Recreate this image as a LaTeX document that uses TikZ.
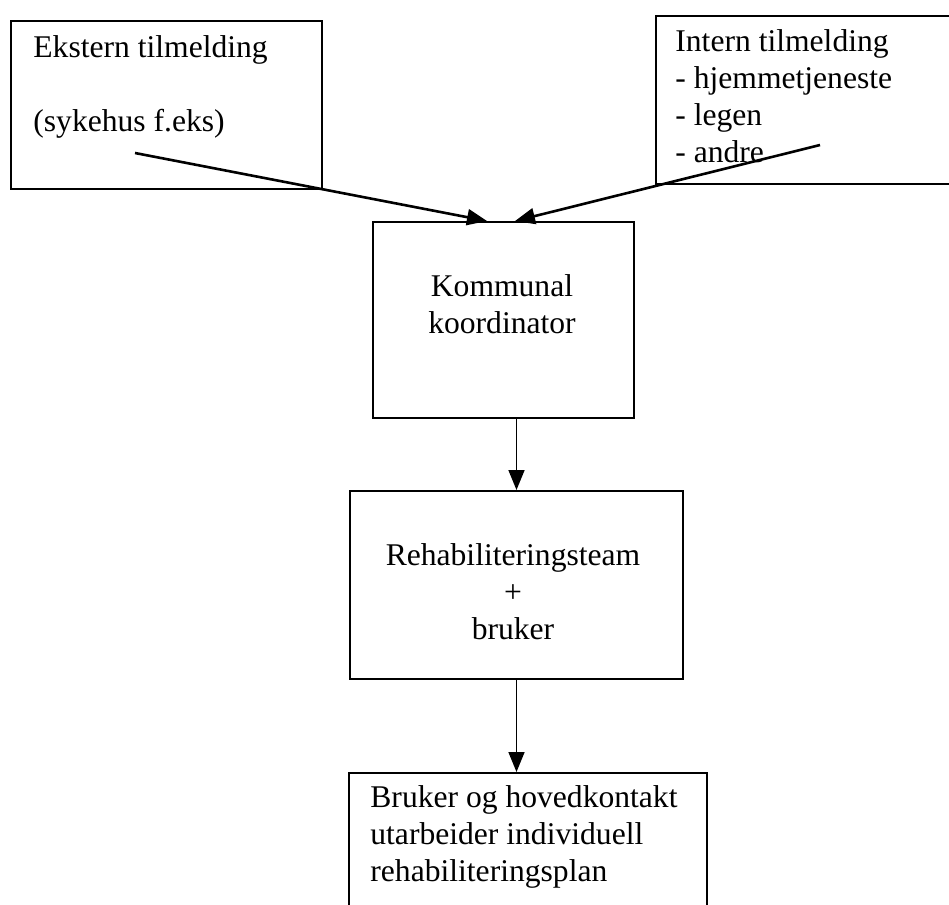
\documentclass[tikz,border=0pt]{standalone}
\usepackage{fontspec}
\setmainfont{Liberation Serif}
\usetikzlibrary{arrows.meta}

\begin{document}
\begin{tikzpicture}[x=0.5pt,y=-0.5pt,
  box/.style={draw,line width=1pt,inner sep=0pt,anchor=north west},
  txt/.style={inner sep=0pt,font=\fontsize{15.8}{18.5}\selectfont},
  feed/.style={line width=1.3pt,-{Triangle[length=10pt,width=8pt]}},
  flow/.style={line width=0.8pt,-{Triangle[length=10pt,width=8pt]}}]
  \useasboundingbox (0,0) rectangle (949,905);
  \begin{scope}
    \clip (0,0) rectangle (949,905);
    % boxes
    \node[box,minimum width=155.5pt,minimum height=84pt] (ekstern) at (10,20) {};
    \node[box,minimum width=172.5pt,minimum height=84pt] (intern) at (655,15) {};
    \node[box,minimum width=130.5pt,minimum height=98pt] (komm) at (372,221) {};
    \node[box,minimum width=166.5pt,minimum height=94pt] (team) at (349,490) {};
    \node[box,minimum width=179pt,minimum height=94pt] (plan) at (348,772) {};

    % texts
    \node[txt,anchor=north west,align=left] (eksterntxt) at (33,35)
      {Ekstern tilmelding\\[18.5pt](sykehus f.eks)};
    \node[txt,anchor=north west,align=left] (interntxt) at (675,29)
      {Intern tilmelding\\- hjemmetjeneste\\- legen\\- andre};
    \node[txt,anchor=north,align=center] (kommtxt) at (502,274)
      {Kommunal\\koordinator};
    \node[txt,anchor=north,align=center] (teamtxt) at (513,543)
      {Rehabiliteringsteam\\+\\bruker};
    \node[txt,anchor=north west,align=left] (plantxt) at (370,785)
      {Bruker og hovedkontakt\\utarbeider individuell\\rehabiliteringsplan};

    % connectors
    \coordinate (extsrc) at (135,153);
    \coordinate (intsrc) at (820,145);
    \draw[feed] (extsrc) -- ([xshift=57.5pt]komm.north west);
    \draw[feed] (intsrc) -- ([xshift=71.5pt]komm.north west);
    \draw[flow] (team.north |- komm.south) -- (team.north);
    \draw[flow] (team.south) -- (team.south |- plan.north);
  \end{scope}
\end{tikzpicture}
\end{document}
